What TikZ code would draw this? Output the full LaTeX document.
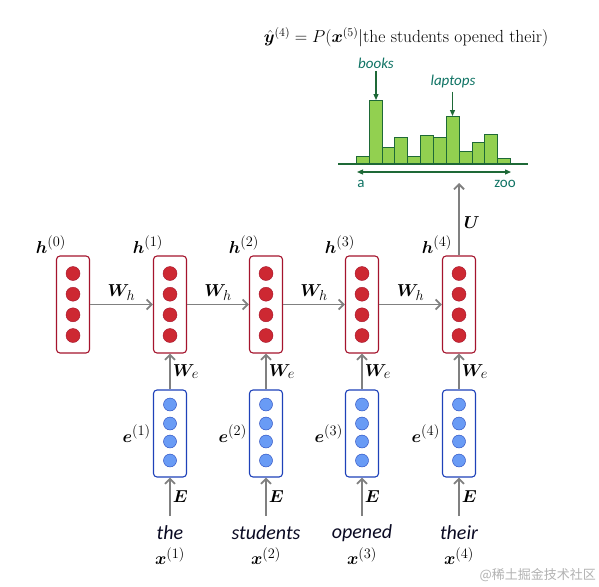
\documentclass[tikz,border=0pt]{standalone}
\usepackage{amsmath}
\usepackage{bm}
\usepackage{fontspec}
\setsansfont{Carlito}
\newfontfamily\cjkfont{Noto Sans CJK SC}
\usetikzlibrary{arrows.meta,positioning,calc}
\definecolor{hidred}{RGB}{205,40,50}
\definecolor{hidedge}{RGB}{165,20,45}
\definecolor{embblue}{RGB}{105,155,245}
\definecolor{embedge}{RGB}{30,65,185}
\definecolor{barfill}{RGB}{146,208,80}
\definecolor{baredge}{RGB}{30,105,55}
\definecolor{vocteal}{RGB}{15,115,100}
\definecolor{wordink}{RGB}{10,10,35}
\definecolor{flowgray}{RGB}{128,128,128}

\tikzset{
  hbox/.style={draw=hidedge, fill=white, line width=1.1pt, rounded corners=3.5pt,
    minimum width=33pt, minimum height=97pt, inner sep=0pt},
  ebox/.style={draw=embedge, fill=white, line width=1.1pt, rounded corners=3.5pt,
    minimum width=33pt, minimum height=87pt, inner sep=0pt},
  hdot/.style={circle, draw=hidedge, fill=hidred, minimum size=14pt, inner sep=0pt},
  edot/.style={circle, draw=embedge, fill=embblue, minimum size=13pt, inner sep=0pt},
  flow/.style={draw=flowgray, line width=1.8pt, -{Straight Barb[length=5pt,width=10pt]}},
  mathlbl/.style={font=\fontsize{19}{22}\selectfont, inner sep=1pt},
  vocarrow/.style={draw=baredge, line width=1.2pt, -{Triangle[length=6pt,width=5pt]}},
  voclbl/.style={text=vocteal, font=\sffamily\fontsize{15}{17}\selectfont, inner sep=0pt}
}

\begin{document}
\begin{tikzpicture}[x=1pt, y=-1pt]
\useasboundingbox[fill=white] (0,0) rectangle (599,586);

% hidden states
\foreach \i/\x in {0/73,1/170,2/266,3/362,4/459}{
  \node[hbox] (h\i) at (\x,304.5) {};
  \foreach \k/\dy in {1/-31,2/-10.3,3/10.3,4/31}{
    \node[hdot] (h\i d\k) at (\x,304.5+\dy) {};
  }
  \node[mathlbl, anchor=south] (hl\i) at ($(h\i.north west)+(-5,-1)$) {$\bm{h}^{(\i)}$};
}

% embeddings and words
\foreach \i/\x/\w in {1/170/the,2/266/students,3/362/opened,4/459/their}{
  \node[ebox] (e\i) at (\x,433.5) {};
  \foreach \k/\dy in {1/-29,2/-10,3/8,4/27}{
    \node[edot] (e\i d\k) at (\x,433.5+\dy) {};
  }
  \node[mathlbl, left=1pt of e\i] (el\i) {$\bm{e}^{(\i)}$};
  \node[text=wordink, font=\sffamily\itshape\fontsize{20}{23}\selectfont, inner sep=0pt]
    (w\i) at (\x,533) {\w};
  \node[mathlbl] (x\i) at (\x,556) {$\bm{x}^{(\i)}$};
  \coordinate (ws\i) at (\x,516);
  \draw[flow] (ws\i) -- (e\i.south) node[mathlbl, midway, right=1pt] {$\bm{E}$};
  \draw[flow] (e\i.north) -- (h\i.south) node[mathlbl, midway, right=1pt] {$\bm{W}_e$};
}

% recurrence
\foreach \a/\b in {0/1,1/2,2/3,3/4}{
  \draw[flow] (h\a.east) -- (h\b.west) node[mathlbl, midway, above=2pt] {$\bm{W}_h$};
}

% output
\coordinate (out) at (459,183);
\draw[flow] (h4.north) -- (out) node[mathlbl, pos=0.45, right=3pt] {$\bm{U}$};

% output distribution
\foreach \j/\hgt in {0/8,1/63.7,2/16.7,3/26.7,4/8,5/28.7,6/26.7,7/47.7,8/12.7,9/21.7,10/29.7,11/6}{
  \draw[draw=baredge, fill=barfill, line width=0.9pt]
    (356.3+12.85*\j,164) rectangle ++(12.85,-\hgt);
}
\coordinate (axl) at (338,164);
\coordinate (axr) at (528,164);
\draw[baredge, line width=2pt] (axl) -- (axr);
\coordinate (voca) at (357,172);
\coordinate (vocz) at (511,172);
\draw[vocarrow, {Triangle[length=6pt,width=5pt]}-{Triangle[length=6pt,width=5pt]}] (voca) -- (vocz);
\node[voclbl] (lbla) at (361,184) {a};
\node[voclbl] (lblz) at (505,184) {zoo};
\node[voclbl, font=\sffamily\itshape\fontsize{15}{17}\selectfont] (books) at (376,63) {books};
\node[voclbl, font=\sffamily\itshape\fontsize{15}{17}\selectfont] (laptops) at (453,82) {laptops};
\coordinate (bookstop) at (376,100);
\coordinate (laptopstop) at (452.5,116);
\draw[vocarrow] (books.south)+(0,3) -- (bookstop);
\draw[vocarrow] (laptops.south)+(-0.5,3) -- (laptopstop);

\node[font=\fontsize{17.5}{20}\selectfont, inner sep=0pt] (ydist) at (406,37)
  {$\hat{\bm{y}}^{(4)} = P(\bm{x}^{(5)}|\text{the students opened their})$};

\node[text=black!30, font=\cjkfont\fontsize{13}{15}\selectfont, anchor=east, inner sep=0pt]
  (mark) at (596,575) {@稀土掘金技术社区};
\end{tikzpicture}
\end{document}
